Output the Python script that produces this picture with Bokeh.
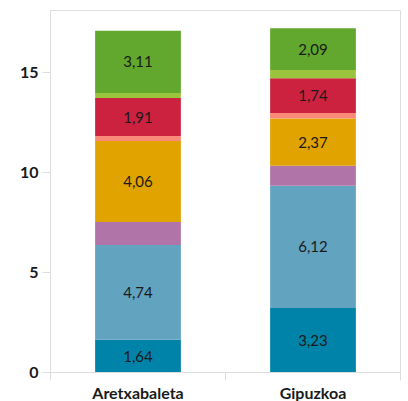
import numpy as np
from bokeh.plotting import figure
from bokeh.models import ColumnDataSource, Range1d, FixedTicker, LabelSet
from bokeh.core.properties import value
from bokeh.embed import file_html
from bokeh.resources import INLINE

categories = ["Aretxabaleta", "Gipuzkoa"]
series = ["s1", "s2", "s3", "s4", "s5", "s6", "s7", "s8"]
aretxabaleta = [1.64, 4.74, 1.16, 4.06, 0.24, 1.91, 0.25, 3.11]
gipuzkoa = [3.23, 6.12, 1.00, 2.37, 0.28, 1.74, 0.41, 2.09]
colors = ["#0083a8", "#62a3c0", "#b074a8", "#e0a300",
          "#fa8a78", "#cc2240", "#9ac43e", "#62a72e"]
labeled = [True, True, False, True, False, True, False, True]
y_ticks = [0, 5, 10, 15]
y_max = 18.13

FONT = "Lato"
GRAY = "#dddddd"

n = len(categories)
centers = np.arange(n) + 0.5
bounds = list(range(n + 1))

data = {"x": centers}
for s, a, g in zip(series, aretxabaleta, gipuzkoa):
    data[s] = [a, g]
source = ColumnDataSource(data)

p = figure(x_range=Range1d(0, n), y_range=Range1d(0, y_max),
           frame_width=350, frame_height=362,
           min_border_left=50, min_border_top=10, min_border_right=6,
           min_border_bottom=0,
           output_backend="svg", toolbar_location=None)

p.vbar_stack(series, x="x", width=0.49, color=colors, line_color=None,
             source=source)

# segment labels
vals = np.array([aretxabaleta, gipuzkoa])
cum = np.cumsum(vals, axis=1)
mids = cum - vals / 2
lx, ly, lt = [], [], []
for i in range(n):
    for j in range(len(series)):
        if labeled[j]:
            lx.append(centers[i])
            ly.append(mids[i, j])
            lt.append(f"{vals[i, j]:.2f}".replace(".", ","))
lsrc = ColumnDataSource(dict(x=lx, y=ly, t=lt))
p.add_layout(LabelSet(x="x", y="y", text="t", source=lsrc,
                      text_align="center", text_baseline="middle",
                      text_font=value(FONT), text_font_size="15px",
                      text_color="#1a1a1a"))

p.xgrid.visible = False
p.ygrid.visible = False
p.outline_line_color = GRAY
p.outline_line_width = 1
p.background_fill_color = "white"
p.border_fill_color = "white"

# y axis
yax = p.yaxis[0]
yax.ticker = FixedTicker(ticks=y_ticks)
yax.axis_line_color = GRAY
yax.major_tick_line_color = GRAY
yax.major_tick_out = 8
yax.major_tick_in = 0
yax.minor_tick_line_color = None
yax.major_label_text_font = FONT
yax.major_label_text_font_size = "16px"
yax.major_label_text_font_style = "bold"
yax.major_label_text_color = "#1a1a1a"
yax.major_label_standoff = 4

# x axis: labels at category centres, ticks at band boundaries
xax = p.xaxis[0]
xax.ticker = FixedTicker(ticks=list(centers), minor_ticks=bounds)
xax.major_label_overrides = {float(c): cat for c, cat in zip(centers, categories)}
xax.axis_line_color = GRAY
xax.major_tick_line_color = None
xax.major_tick_out = 8
xax.major_tick_in = 0
xax.minor_tick_line_color = GRAY
xax.minor_tick_out = 8
xax.minor_tick_in = 0
xax.major_label_text_font = FONT
xax.major_label_text_font_size = "16px"
xax.major_label_text_font_style = "bold"
xax.major_label_text_color = "#1a1a1a"
xax.major_label_standoff = 2

open("out.html", "w").write(file_html(p, INLINE))
